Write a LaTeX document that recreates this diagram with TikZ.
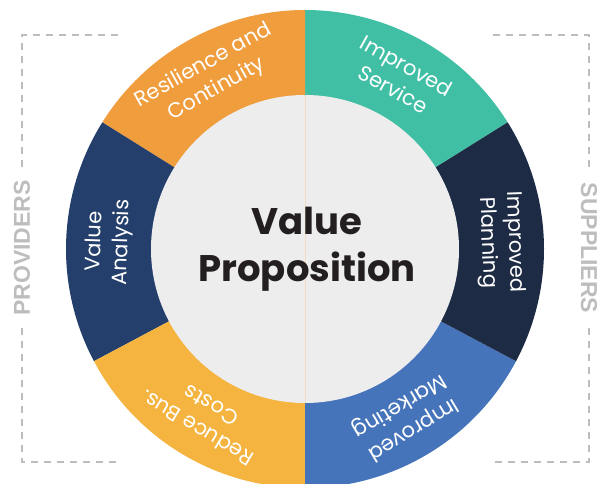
\documentclass[tikz,border=0pt]{standalone}
\usepackage{fontspec}
\setmainfont{Poppins}
\newfontfamily\sidefont{Liberation Sans}
\usetikzlibrary{calc}

\definecolor{resilience}{HTML}{F09D3E}
\definecolor{service}{HTML}{40BFA5}
\definecolor{planning}{HTML}{1E2B45}
\definecolor{marketing}{HTML}{4674BA}
\definecolor{costs}{HTML}{F4B43F}
\definecolor{analysis}{HTML}{243F6C}
\definecolor{core}{HTML}{EDEDED}
\definecolor{seam}{HTML}{F4DCC4}
\definecolor{sidegray}{HTML}{BDBDBD}
\definecolor{ink}{HTML}{231F20}

\begin{document}
\begin{tikzpicture}[x = 1pt, y = 1pt,
    segment label/.style = {text = white, align = center, inner sep = 1pt, font = \fontsize{21}{27}\selectfont},
    side label/.style = {text = sidegray, font = \sidefont\bfseries\fontsize{23}{23}\selectfont},
    bracket/.style = {sidegray, line width = 1.2pt, dash pattern = on 7pt off 6pt}]
    \useasboundingbox (0, 0) rectangle (605, 484);
    \coordinate (center) at (305, 235);

    % ring segments: start/end angle, colour, name, text
    \foreach \a/\b/\col/\name/\txt in {
        32/90/service/improved service/{Improved \\ Service},
        90/148/resilience/resilience/{Resilience and \\ Continuity},
        148/208/analysis/value analysis/{Value \\ Analysis},
        208/270/costs/reduce costs/{Reduce Bus. \\ Costs},
        270/332/marketing/improved marketing/{Improved \\ Marketing},
        -28/32/planning/improved planning/{Improved \\ Planning}}
    {
        \fill[\col] (center) -- ++(\a:239) arc[start angle = \a, end angle = \b, radius = 239] -- cycle;
        \pgfmathsetmacro{\mid}{(\a + \b) / 2}
        \node[segment label, rotate = \mid - 90] (\name) at ($(center) + (\mid:196)$) {\txt};
    }

    \fill[core] (center) circle[radius = 154];
    \draw[seam, line width = 0.6pt] ([yshift = 154pt]center) -- ([yshift = -154pt]center);
    \node[text = ink, align = center, font = \bfseries\fontsize{37}{47}\selectfont] (value proposition) at (307, 235) {Value \\ Proposition};

    \node[side label, rotate = 90] (providers) at (22, 236) {PROVIDERS};
    \node[side label, rotate = -90] (suppliers) at (589, 236) {SUPPLIERS};

    \draw[bracket] (118, 449) -- (22, 449) -- (22, 317);
    \draw[bracket] (22, 156) -- (22, 22) -- (118, 22);
    \draw[bracket] (493, 449) -- (589, 449) -- (589, 317);
    \draw[bracket] (589, 156) -- (589, 22) -- (493, 22);
\end{tikzpicture}
\end{document}
